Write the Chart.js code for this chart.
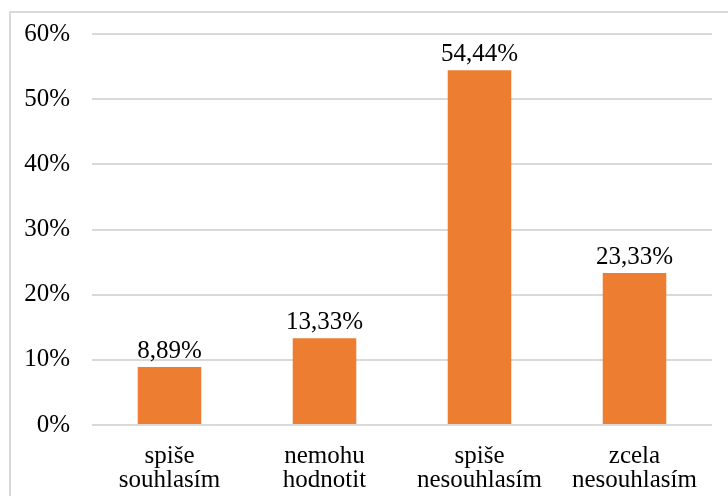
<!DOCTYPE html>
<html>
<head>
<meta charset="utf-8">
<script src="https://cdn.jsdelivr.net/npm/chart.js@4/dist/chart.umd.min.js"></script>
<style>
  html, body { margin: 0; padding: 0; background: #fff; }
  #wrap { position: relative; width: 728px; height: 496px; }
</style>
</head>
<body>
<div id="wrap"><canvas id="c" width="728" height="496"></canvas></div>
<script>
const categories = [["spiše", "souhlasím"], ["nemohu", "hodnotit"], ["spiše", "nesouhlasím"], ["zcela", "nesouhlasím"]];
const values = [8.89, 13.33, 54.44, 23.33];
const yTicks = [0, 10, 20, 30, 40, 50, 60];

const FONT = "'Liberation Serif', 'Times New Roman', serif";

// frame lines (top + left) like the original export
const framePlugin = {
  id: "frame",
  beforeDraw(chart) {
    const ctx = chart.ctx;
    ctx.save();
    ctx.fillStyle = "#fff";
    ctx.fillRect(0, 0, chart.width, chart.height);
    ctx.strokeStyle = "#d9d9d9";
    ctx.lineWidth = 2;
    ctx.beginPath();
    ctx.moveTo(10, chart.height);
    ctx.lineTo(10, 12);
    ctx.lineTo(chart.width, 12);
    ctx.stroke();
    ctx.restore();
  }
};

// value labels above bars
const labelPlugin = {
  id: "barLabels",
  afterDatasetsDraw(chart) {
    const ctx = chart.ctx;
    const meta = chart.getDatasetMeta(0);
    ctx.save();
    ctx.font = "25px " + FONT;
    ctx.fillStyle = "#000";
    ctx.textAlign = "center";
    ctx.textBaseline = "bottom";
    meta.data.forEach((bar, i) => {
      const txt = values[i].toFixed(2).replace(".", ",") + "%";
      ctx.fillText(txt, bar.x, bar.y - 3);
    });
    ctx.restore();
  }
};

new Chart(document.getElementById("c"), {
  type: "bar",
  data: {
    labels: categories,
    datasets: [{
      data: values,
      backgroundColor: "#ED7D31",
      barPercentage: 0.41,
      categoryPercentage: 1
    }]
  },
  options: {
    responsive: false,
    animation: false,
    layout: { padding: { top: 34, right: 16, left: 0, bottom: 0 } },
    plugins: { legend: { display: false }, tooltip: { enabled: false } },
    scales: {
      x: {
        grid: { display: false },
        border: { display: false },
        ticks: {
          color: "#000",
          font: { family: FONT, size: 25, lineHeight: 0.95 },
          padding: 12,
          maxRotation: 0,
          autoSkip: false
        },
        afterFit(s) { s.height = 71; }
      },
      y: {
        min: 0,
        max: 60,
        afterBuildTicks(s) { s.ticks = yTicks.map(v => ({ value: v })); },
        grid: { color: "#d9d9d9", lineWidth: 2, drawTicks: false },
        border: { display: false },
        ticks: {
          color: "#000",
          font: { family: FONT, size: 25 },
          padding: 22,
          callback: v => v + "%"
        },
        afterFit(s) {
          s.width = 92;
          s.paddingTop = 0;
          s.paddingBottom = 0;
        }
      }
    }
  },
  plugins: [framePlugin, labelPlugin]
});
</script>
</body>
</html>
